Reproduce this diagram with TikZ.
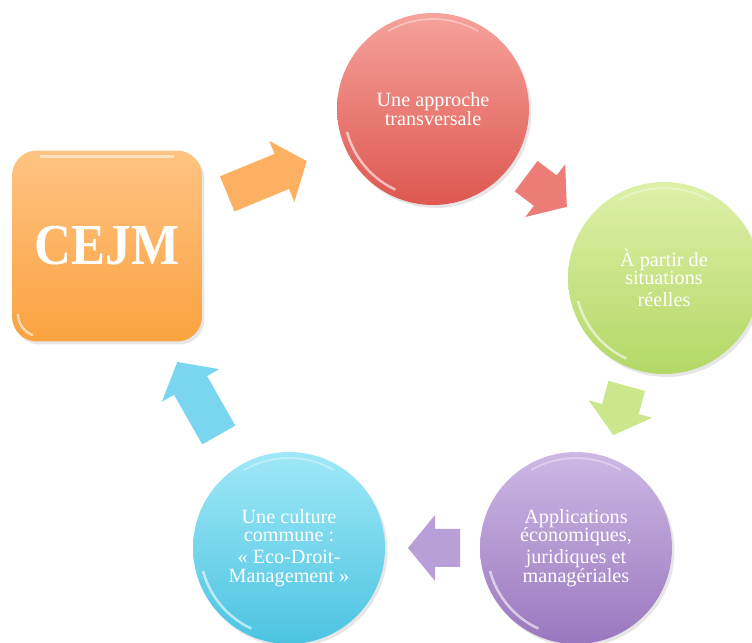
\documentclass[tikz,border=0pt]{standalone}
\usepackage{fontspec}
\setmainfont{Liberation Serif}
\usetikzlibrary{shadows}

\definecolor{orangeTop}{HTML}{FEC383}
\definecolor{orangeBot}{HTML}{FBA23F}
\definecolor{orangeArr}{HTML}{FDB062}
\definecolor{redTop}{HTML}{F6A29C}
\definecolor{redBot}{HTML}{DD5850}
\definecolor{redArr}{HTML}{EE7C76}
\definecolor{greenTop}{HTML}{DDF0A8}
\definecolor{greenBot}{HTML}{B3D866}
\definecolor{greenArr}{HTML}{CAE78C}
\definecolor{purpleTop}{HTML}{CDB8E4}
\definecolor{purpleBot}{HTML}{9A77BF}
\definecolor{purpleArr}{HTML}{B89FD8}
\definecolor{blueTop}{HTML}{A0E8F7}
\definecolor{blueBot}{HTML}{4BC4E1}
\definecolor{blueArr}{HTML}{79D6EE}

\tikzset{
  bubble/.style={circle, minimum size=3.84cm, inner sep=0pt, text=white,
    align=center, font=\fontsize{11.5}{10.5}\selectfont,
    drop shadow={opacity=0.2, shadow xshift=0.05cm, shadow yshift=-0.06cm},
    path picture={
      \draw[white, opacity=0.6, line width=1.4pt]
        (path picture bounding box.center) ++(195:1.78cm) arc (195:245:1.78cm);
      \draw[white, opacity=0.35, line width=1pt]
        (path picture bounding box.center) ++(60:1.8cm) arc (60:120:1.8cm);
    }},
  titlebox/.style={rectangle, rounded corners=0.5cm, minimum width=3.8cm,
    minimum height=3.82cm, inner sep=0pt, text=white,
    top color=orangeTop, bottom color=orangeBot,
    drop shadow={opacity=0.2, shadow xshift=0.05cm, shadow yshift=-0.06cm},
    path picture={
      \draw[white, opacity=0.5, line width=1.4pt]
        ([shift={(0.55cm,-0.12cm)}]path picture bounding box.north west)
        -- ([shift={(-0.55cm,-0.12cm)}]path picture bounding box.north east);
      \draw[white, opacity=0.6, line width=1.4pt]
        ([shift={(0.12cm,0.55cm)}]path picture bounding box.south west)
        arc (180:250:0.45cm);
    }},
  pics/blockarrow/.style={code={
    \fill[pic actions] (-#1/2,-19) -- (#1/2-27,-19) -- (#1/2-27,-33) -- (#1/2,0)
      -- (#1/2-27,33) -- (#1/2-27,19) -- (-#1/2,19) -- cycle;
  }}
}

\begin{document}
\begin{tikzpicture}[x=0.02cm, y=0.02cm]
	\useasboundingbox (0,0) rectangle (752,643);
	% boxes
	\node [titlebox] (cejm) at (107,397) {\fontsize{33}{33}\selectfont\bfseries\scalebox{0.88}[1]{CEJM}};
	\node [bubble, top color=redTop, bottom color=redBot] (approche) at (433,534) {Une approche\\transversale};
	\node [bubble, top color=greenTop, bottom color=greenBot] (situations) at (664,365) {À partir de\\situations\\[2pt]réelles};
	\node [bubble, top color=purpleTop, bottom color=purpleBot] (applications) at (576,95) {Applications\\économiques,\\[2pt]juridiques et\\managériales};
	\node [bubble, top color=blueTop, bottom color=blueBot] (culture) at (289,95) {Une culture\\commune :\\[2pt]« Eco-Droit-\\Management »};
	% arrows
	\pic [fill=orangeArr, rotate=22.4] at (267,465.5) {blockarrow=86};
	\pic [fill=redArr, rotate=-37] at (546.5,451.5) {blockarrow=51};
	\pic [fill=greenArr, rotate=-105.4] at (620,232.5) {blockarrow=51};
	\pic [fill=purpleArr, rotate=180] at (434,95) {blockarrow=52};
	\pic [fill=blueArr, rotate=119.6] at (198,244.5) {blockarrow=84};
\end{tikzpicture}
\end{document}
